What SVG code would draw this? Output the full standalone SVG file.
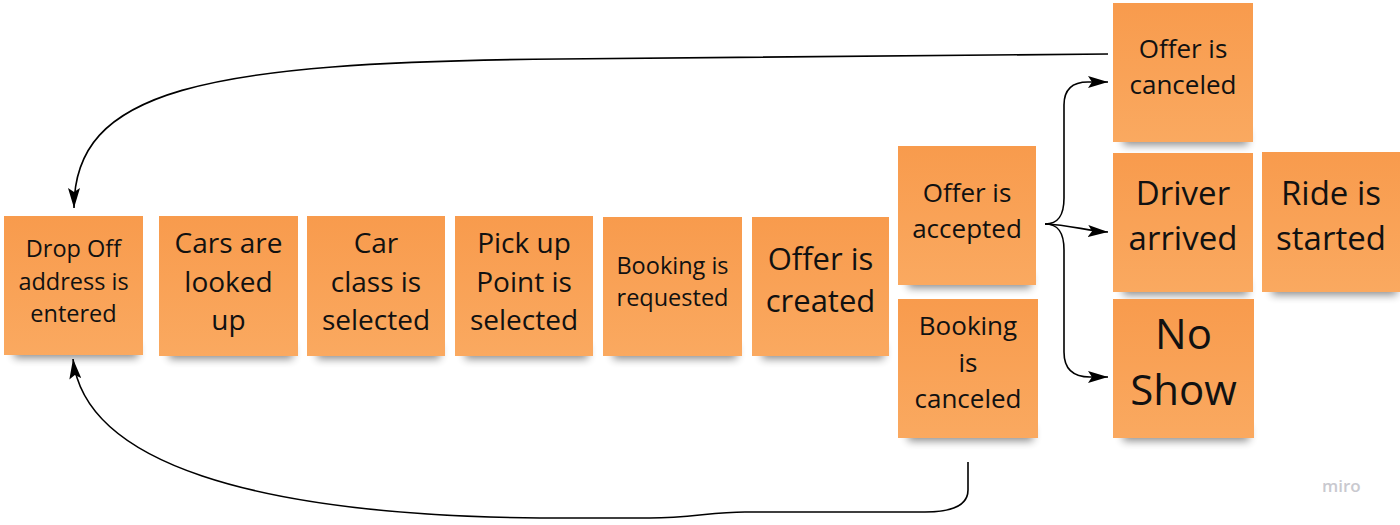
<svg xmlns="http://www.w3.org/2000/svg" width="1400" height="525" viewBox="0 0 1400 525">
<style>
.note{fill:url(#paper)}
.shadow{fill:#000;opacity:0.45;filter:url(#blur)}
.t{font-family:"Open Sans","Noto Sans","DejaVu Sans",sans-serif;fill:#111;text-anchor:middle}
.edge{fill:none;stroke:#000;stroke-width:1.6}
.logo{font-family:"Open Sans","Noto Sans",sans-serif;font-weight:600;fill:#c9c9cf;font-size:17px}
</style>
<defs>
<linearGradient id="paper" x1="0" y1="0" x2="0" y2="1">
<stop offset="0" stop-color="#F89B4D"/>
<stop offset="1" stop-color="#FAA960"/>
</linearGradient>
<filter id="blur" x="-20%" y="-100%" width="140%" height="300%">
<feGaussianBlur stdDeviation="4"/>
</filter>
<marker id="arrow" viewBox="0 0 20 12" refX="20" refY="6" markerWidth="20" markerHeight="12" markerUnits="userSpaceOnUse" orient="auto">
<path d="M0,0 L20,6 L0,12 L4,6 Z" fill="#000"/>
</marker>
</defs>

<g id="drop-off">
<rect class="shadow" x="14" y="344" width="124" height="14"/>
<rect class="note" x="4" y="216" width="139" height="139"/>
<text class="t" font-size="23.5"><tspan x="73.5" y="257">Drop Off</tspan><tspan x="73.5" y="290">address is</tspan><tspan x="73.5" y="322">entered</tspan></text>
</g>
<g id="cars-looked-up">
<rect class="shadow" x="169" y="345" width="124" height="14"/>
<rect class="note" x="159" y="216" width="139" height="140"/>
<text class="t" font-size="28"><tspan x="228.5" y="253">Cars are</tspan><tspan x="228.5" y="292">looked</tspan><tspan x="228.5" y="330">up</tspan></text>
</g>
<g id="car-class">
<rect class="shadow" x="317" y="345" width="123" height="14"/>
<rect class="note" x="307" y="216" width="138" height="140"/>
<text class="t" font-size="28"><tspan x="376" y="253">Car</tspan><tspan x="376" y="292">class is</tspan><tspan x="376" y="330">selected</tspan></text>
</g>
<g id="pick-up">
<rect class="shadow" x="465" y="345" width="123" height="14"/>
<rect class="note" x="455" y="216" width="138" height="140"/>
<text class="t" font-size="28"><tspan x="524" y="253">Pick up</tspan><tspan x="524" y="292">Point is</tspan><tspan x="524" y="330">selected</tspan></text>
</g>
<g id="booking-requested">
<rect class="shadow" x="613" y="345" width="124" height="14"/>
<rect class="note" x="603" y="217" width="139" height="139"/>
<text class="t" font-size="23.5"><tspan x="672.5" y="274">Booking is</tspan><tspan x="672.5" y="306">requested</tspan></text>
</g>
<g id="offer-created">
<rect class="shadow" x="762" y="345" width="122" height="14"/>
<rect class="note" x="752" y="217" width="137" height="139"/>
<text class="t" font-size="31"><tspan x="820.5" y="270">Offer is</tspan><tspan x="820.5" y="312">created</tspan></text>
</g>
<g id="offer-accepted">
<rect class="shadow" x="908" y="274" width="123" height="14"/>
<rect class="note" x="898" y="146" width="138" height="139"/>
<text class="t" font-size="26"><tspan x="967" y="202">Offer is</tspan><tspan x="967" y="238">accepted</tspan></text>
</g>
<g id="booking-canceled">
<rect class="shadow" x="908" y="427" width="125" height="14"/>
<rect class="note" x="898" y="299" width="140" height="139"/>
<text class="t" font-size="26"><tspan x="968" y="335">Booking</tspan><tspan x="968" y="372">is</tspan><tspan x="968" y="408">canceled</tspan></text>
</g>
<g id="offer-canceled">
<rect class="shadow" x="1123" y="131" width="125" height="14"/>
<rect class="note" x="1113" y="3" width="140" height="139"/>
<text class="t" font-size="26"><tspan x="1183" y="58">Offer is</tspan><tspan x="1183" y="94">canceled</tspan></text>
</g>
<g id="driver-arrived">
<rect class="shadow" x="1123" y="281" width="125" height="14"/>
<rect class="note" x="1113" y="153" width="140" height="139"/>
<text class="t" font-size="33"><tspan x="1183" y="205">Driver</tspan><tspan x="1183" y="250">arrived</tspan></text>
</g>
<g id="ride-started">
<rect class="shadow" x="1272" y="281" width="125" height="14"/>
<rect class="note" x="1262" y="152" width="140" height="140"/>
<text class="t" font-size="33"><tspan x="1331" y="205">Ride is</tspan><tspan x="1331" y="250">started</tspan></text>
</g>
<g id="no-show">
<rect class="shadow" x="1123" y="427" width="126" height="14"/>
<rect class="note" x="1113" y="299" width="141" height="139"/>
<text class="t" font-size="42"><tspan x="1183.5" y="349">No</tspan><tspan x="1183.5" y="405">Show</tspan></text>
</g>

<g id="connectors">
<path class="edge" marker-end="url(#arrow)" d="M1108,54 L560,59 C200,62 74,90 74,208"/>
<path class="edge" marker-end="url(#arrow)" d="M968,462 L968,490 C968,506 952,512 925,512 L745,512 C712,512 690,518 650,518 L540,518 C250,515 85,462 73,359"/>
<path class="edge" marker-end="url(#arrow)" d="M1045,224 C1058,224 1064,216 1064,198 L1064,105 C1064,88 1074,82 1088,82 L1108,82"/>
<path class="edge" marker-end="url(#arrow)" d="M1045,224 C1070,225 1088,231 1108,232"/>
<path class="edge" marker-end="url(#arrow)" d="M1045,224 C1058,224 1064,232 1064,250 L1064,352 C1064,370 1074,377 1090,377 L1108,377"/>
</g>

<text class="logo" x="1322" y="492">miro</text>
</svg>
